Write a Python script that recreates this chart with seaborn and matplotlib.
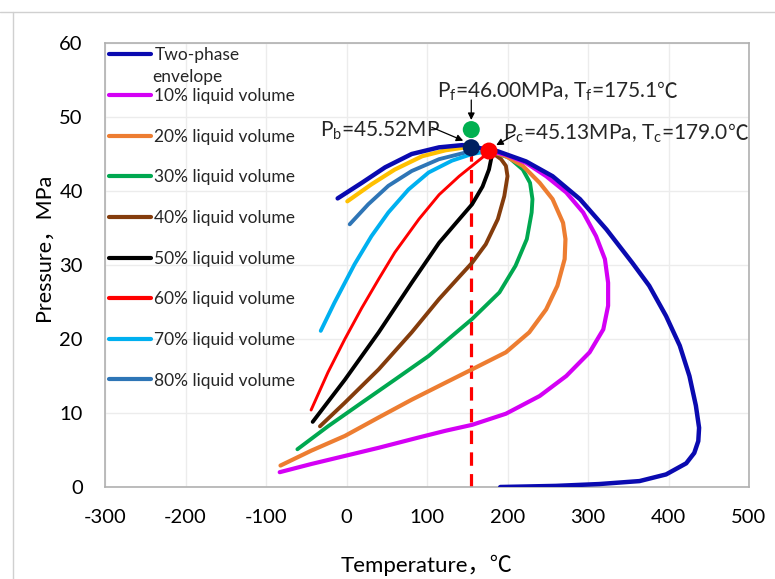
import numpy as np
import pandas as pd
import matplotlib
matplotlib.use("Agg")
import matplotlib.pyplot as plt
from matplotlib.lines import Line2D
import seaborn as sns

# ---------------- data ----------------
env_T = [-11, 19, 48, 81, 115, 144, 165, 187, 223, 256, 290, 323, 355, 376, 397, 414, 426, 434, 438, 437, 432, 422, 397, 364, 314, 260, 191]
env_P = [39.0, 41.1, 43.2, 45.0, 45.9, 46.2, 45.8, 45.4, 44.0, 42.0, 38.9, 34.8, 30.3, 27.2, 23.1, 19.1, 15.0, 11.0, 8.0, 6.2, 4.6, 3.2, 1.7, 0.8, 0.4, 0.15, 0.0]

l10_T = [-83, -44, -2, 40, 90, 123, 156, 198, 240, 273, 302, 319, 325, 325, 321, 310, 294, 273, 248, 223, 198, 178]
l10_P = [2.0, 3.1, 4.2, 5.3, 6.7, 7.6, 8.4, 9.9, 12.3, 15.0, 18.2, 21.3, 24.5, 27.6, 30.8, 33.9, 37.1, 39.8, 42.0, 43.8, 44.9, 45.4]

l20_T = [-82, -44, -2, 40, 81, 123, 156, 198, 227, 248, 262, 271, 272, 269, 256, 240, 219, 198, 178]
l20_P = [2.9, 4.9, 6.9, 9.4, 11.8, 14.1, 15.9, 18.2, 20.9, 24.0, 27.2, 30.8, 33.5, 35.7, 38.9, 41.1, 43.4, 44.7, 45.4]

l30_T = [-61, -23, 19, 60, 102, 131, 156, 190, 210, 224, 230, 231, 228, 219, 202, 178]
l30_P = [5.1, 8.2, 11.4, 14.5, 17.7, 20.4, 22.7, 26.3, 29.9, 33.5, 37.1, 38.9, 41.1, 42.9, 44.5, 45.4]

l40_T = [-33, -2, 40, 81, 115, 140, 156, 173, 188, 196, 200, 198, 192, 178]
l40_P = [8.2, 11.4, 15.9, 20.9, 25.4, 28.4, 30.3, 32.8, 36.2, 39.3, 42.0, 43.4, 44.3, 45.4]

l50_T = [-42, -2, 40, 81, 115, 137, 156, 169, 177, 180, 178]
l50_P = [8.8, 14.5, 20.9, 27.6, 33.0, 35.8, 38.2, 40.6, 42.9, 44.5, 45.4]

l60_T = [-44, -23, -2, 19, 40, 60, 90, 115, 140, 156, 173, 178]
l60_P = [10.4, 15.5, 20.0, 24.2, 28.1, 31.7, 36.2, 39.5, 42.0, 43.4, 44.9, 45.4]

l70_T = [-32, -15, 10, 31, 52, 77, 102, 131, 156, 172]
l70_P = [21.1, 24.9, 30.1, 33.9, 37.1, 40.2, 42.5, 44.1, 45.0, 45.3]

l80_T = [4, 27, 52, 81, 115, 148, 160]
l80_P = [35.5, 38.2, 40.7, 42.7, 44.3, 45.2, 45.6]

l90_T = [1, 31, 60, 94, 123, 148, 158]
l90_P = [38.6, 40.9, 42.9, 44.7, 45.5, 45.9, 46.0]

labels = ["Two-phase", "10% liquid volume", "20% liquid volume", "30% liquid volume",
          "40% liquid volume", "50% liquid volume", "60% liquid volume",
          "70% liquid volume", "80% liquid volume"]

x_ticks = [-300, -200, -100, 0, 100, 200, 300, 400, 500]
y_ticks = [0, 10, 20, 30, 40, 50, 60]

bubble_T, bubble_P = [155], [45.85]
crit_T, crit_P = [177], [45.4]
pf_T, pf_P = [155], [48.3]
dash_T = [155, 155]
dash_P = [0, 44.8]

# ---------------- style ----------------
sns.set_theme(style="whitegrid")
plt.rcParams["font.family"] = ["Lato", "Noto Sans CJK SC", "DejaVu Sans"]
plt.rcParams["mathtext.default"] = "regular"

fig = plt.figure(figsize=(7.75, 5.79), dpi=100)
ax = fig.add_axes([105 / 775, 1 - 487 / 579, 644 / 775, 444 / 579])

series = [
    (env_T, env_P, "#0a0ab0", 3.2, labels[0]),
    (l10_T, l10_P, "#d400f5", 3.0, labels[1]),
    (l20_T, l20_P, "#ed7d31", 3.0, labels[2]),
    (l30_T, l30_P, "#00a850", 2.8, labels[3]),
    (l40_T, l40_P, "#843c0c", 2.8, labels[4]),
    (l50_T, l50_P, "#000000", 2.8, labels[5]),
    (l60_T, l60_P, "#ff0000", 2.1, labels[6]),
    (l70_T, l70_P, "#00b0f0", 2.8, labels[7]),
    (l80_T, l80_P, "#2e75b6", 2.8, labels[8]),
]

# dashed vertical line (behind curves)
sns.lineplot(x=dash_T, y=dash_P, ax=ax, color="#ff0000", lw=2.3,
             linestyle=(0, (4.2, 2.6)), sort=False, estimator=None, legend=False, zorder=2)

sns.lineplot(x=l90_T, y=l90_P, ax=ax, color="#ffc000", lw=3.0, sort=False,
             estimator=None, legend=False, zorder=3, solid_capstyle="round")
for T, P, c, lw, lab in reversed(series):
    sns.lineplot(x=T, y=P, ax=ax, color=c, lw=lw, sort=False, estimator=None,
                 label=lab, zorder=3, solid_capstyle="round", solid_joinstyle="round")

sns.scatterplot(x=pf_T, y=pf_P, ax=ax, color="#00b050", s=150, edgecolor="none", zorder=5, legend=False)
sns.scatterplot(x=bubble_T, y=bubble_P, ax=ax, color="#002060", s=150, edgecolor="none", zorder=5, legend=False)
sns.scatterplot(x=crit_T, y=crit_P, ax=ax, color="#ff0000", s=150, edgecolor="none", zorder=6, legend=False)

ax.set_xlim(-300, 500)
ax.set_ylim(0, 60)
ax.set_xticks(x_ticks)
ax.set_yticks(y_ticks)
ax.set_xticklabels([str(v) for v in x_ticks])
ax.set_yticklabels([str(v) for v in y_ticks])
ax.tick_params(axis="both", length=0, labelsize=14.5, colors="#000000")
ax.tick_params(axis="x", pad=16)
ax.tick_params(axis="y", pad=16)
ax.grid(True, color="#ececec", lw=1)
for s in ax.spines.values():
    s.set_color("#b0b0b0")
    s.set_linewidth(1.2)

ax.set_xlabel("Temperature，℃", fontsize=16, color="black")
ax.set_ylabel("Pressure，MPa", fontsize=15.5, color="black")
ax.xaxis.set_label_coords(0.5, -0.152)
ax.yaxis.set_label_coords(-0.08, 0.54)

# legend
h, l = ax.get_legend_handles_labels()
order = [labels.index(x) for x in l]
pairs = sorted(zip(order, h, l))
leg = ax.legend([p[1] for p in pairs], [p[2] for p in pairs], loc="upper left",
                bbox_to_anchor=(0.0, 1.0), frameon=False, fontsize=12.5,
                handlelength=2.4, handletextpad=0.2, labelspacing=1.42,
                borderaxespad=0.15, borderpad=0.1)
for line in leg.get_lines():
    line.set_linewidth(3)
ax.text((152 - 105) / 644, (487 - 77) / 444, "envelope", transform=ax.transAxes,
        fontsize=12.5, ha="left", va="center")

# annotations
ap = dict(arrowstyle="-|>", color="black", lw=0.9, mutation_scale=10, shrinkA=0, shrinkB=0)
t1 = ax.text(112, 52.6, r"P$_{f}$=46.00MPa, T$_{f}$=175.1", fontsize=15, ha="left", va="baseline")
ax.annotate("℃", xy=(1, 52.6), xycoords=(t1, "data"), fontsize=15, ha="left", va="baseline")
ax.annotate("", xy=(155, 49.6), xytext=(155, 52.3), arrowprops=ap)

ax.text(-33, 47.4, r"P$_{b}$=45.52MP", fontsize=15, ha="left", va="baseline")
ax.annotate("", xy=(145, 46.8), xytext=(106, 48.6), arrowprops=ap)

t2 = ax.text(194, 46.9, r"P$_{c}$=45.13MPa, T$_{c}$=179.0", fontsize=15, ha="left", va="baseline")
ax.annotate("℃", xy=(1, 46.9), xycoords=(t2, "data"), fontsize=15, ha="left", va="baseline")
ax.annotate("", xy=(186, 46.2), xytext=(209, 47.6), arrowprops=ap)

# outer chart frame (partially visible)
fig.add_artist(Line2D([0, 1], [1 - 12 / 579, 1 - 12 / 579], transform=fig.transFigure, color="#d0d0d0", lw=1))
fig.add_artist(Line2D([13 / 775, 13 / 775], [0, 1 - 12 / 579], transform=fig.transFigure, color="#d0d0d0", lw=1))

fig.savefig("out.png", dpi=100)
